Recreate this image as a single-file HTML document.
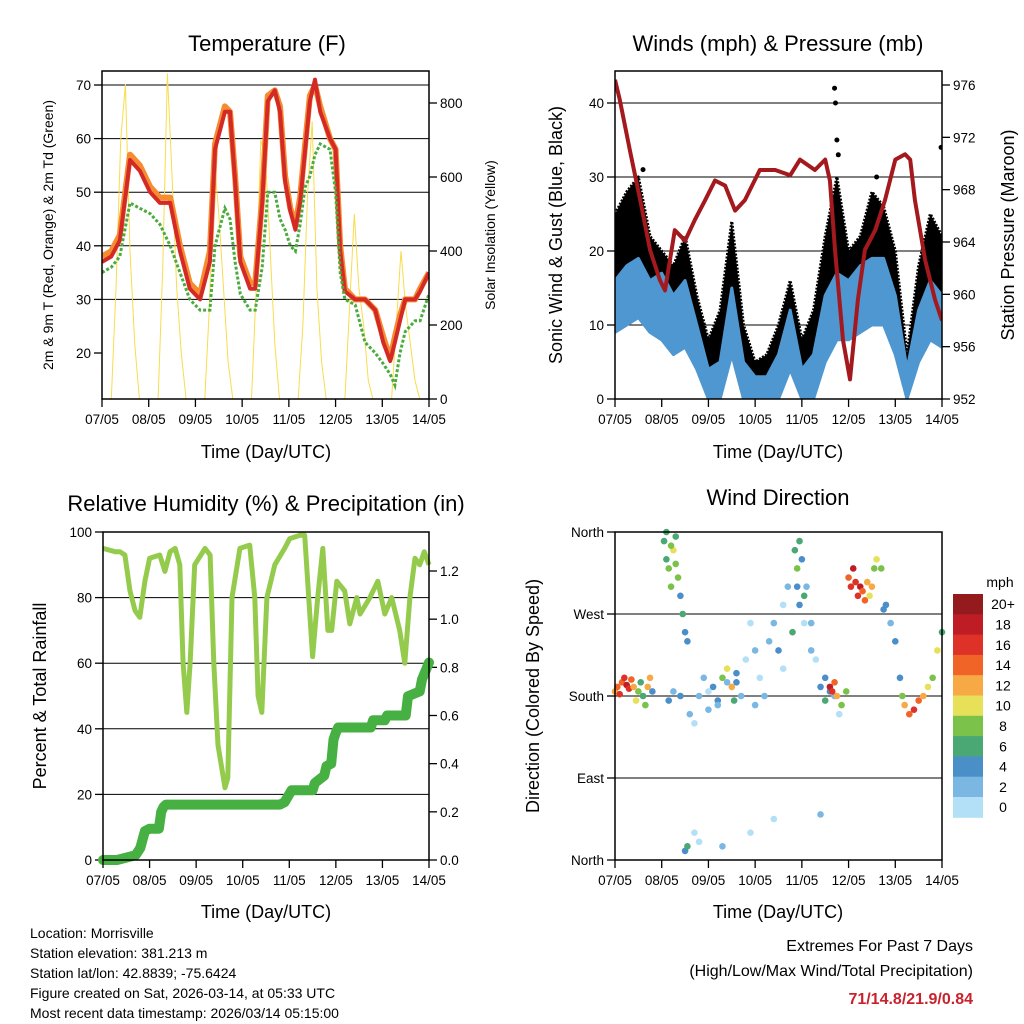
<!DOCTYPE html>
<html><head><meta charset="utf-8"><style>
html,body{margin:0;padding:0;background:#fff;}
svg{display:block;font-family:"Liberation Sans",sans-serif;}
</style></head><body>
<svg id="chart" width="1024" height="1024" viewBox="0 0 1024 1024" xmlns="http://www.w3.org/2000/svg">
<rect width="1024" height="1024" fill="#fff"/>
<g font-size="22" text-anchor="middle" fill="#000">
<text x="267" y="51">Temperature (F)</text>
<text x="778" y="51">Winds (mph) &amp; Pressure (mb)</text>
<text x="266" y="511">Relative Humidity (%) &amp; Precipitation (in)</text>
<text x="778" y="505">Wind Direction</text>
</g>
<g font-size="18" text-anchor="middle">
<text x="266" y="458">Time (Day/UTC)</text>
<text x="778" y="458">Time (Day/UTC)</text>
<text x="266" y="918">Time (Day/UTC)</text>
<text x="778" y="918">Time (Day/UTC)</text>
<text font-size="14" transform="translate(53,235) rotate(-90)">2m &amp; 9m T (Red, Orange) &amp; 2m Td (Green)</text>
<text font-size="14" transform="translate(495,235) rotate(-90)">Solar Insolation (Yellow)</text>
<text transform="translate(562,235) rotate(-90)">Sonic Wind &amp; Gust (Blue, Black)</text>
<text transform="translate(1014,235) rotate(-90)">Station Pressure (Maroon)</text>
<text transform="translate(46,696) rotate(-90)">Percent &amp; Total Rainfall</text>
<text transform="translate(539,696) rotate(-90)">Direction (Colored By Speed)</text>
</g>
<g font-size="14" fill="#000">
<text x="30" y="938">Location: Morrisville</text>
<text x="30" y="958">Station elevation: 381.213 m</text>
<text x="30" y="978">Station lat/lon: 42.8839; -75.6424</text>
<text x="30" y="998">Figure created on Sat, 2026-03-14, at 05:33 UTC</text>
<text x="30" y="1018">Most recent data timestamp: 2026/03/14 05:15:00</text>
</g>
<g font-size="16" text-anchor="end">
<text x="973" y="951">Extremes For Past 7 Days</text>
<text x="973" y="976">(High/Low/Max Wind/Total Precipitation)</text>
<text x="973" y="1004" fill="#c8232c" font-weight="bold">71/14.8/21.9/0.84</text>
</g>
<g id="plots"></g>
</svg>
<script>
// ---------- data ----------
const dayLabels=["07/05","08/05","09/05","10/05","11/05","12/05","13/05","14/05"];
const tempTicks=[20,30,40,50,60,70];
const solarTicks=[0,200,400,600,800];
const windTicks=[0,10,20,30,40];
const presTicks=[952,956,960,964,968,972,976];
const rhTicks=[0,20,40,60,80,100];
const rainTicks=[0.0,0.2,0.4,0.6,0.8,1.0,1.2];
const dirNames=["North","East","South","West","North"];
const dirDeg=[0,90,180,270,360];
const speedLabels=["0","2","4","6","8","10","12","14","16","18","20+"];
const speedColors=["#b3e0f7","#7ab8e3","#4a8fc8","#49a874","#7bc24b","#e7e059","#f7a945","#f06427","#de3128","#bf1d26","#951a1d"];

const tTimes=[0,0.2,0.38,0.6,0.81,1.03,1.24,1.46,1.67,1.88,2.1,2.31,2.42,2.63,2.74,2.85,2.96,3.17,3.28,3.43,3.55,3.7,3.81,3.92,4.03,4.14,4.24,4.35,4.45,4.56,4.67,4.88,5.0,5.1,5.2,5.42,5.63,5.85,6.02,6.17,6.27,6.38,6.49,6.7,6.81,7.0];
const temp2m=[37,38,41,56,54,50,48,48,39,32,30,37,58,65,65,52,37,32,32,48,67,69,65,52,46.5,43,48,58,67,71,65,60,58,39,31.5,30,30,28,22,18.5,22,26,30,30,31.5,35];
const temp9m=[38,39,42,57,55,51,49,49,40,33,31,39,59,66,65,53,38,33,33,49,68,69,66,53,47,44,49,59,68,70,66,60,58,40,32,30,30,28,23,19,23,27,30,30,32,35];
const dewpt=[35,36,38,48,47,46,44,40,35,30,28,28,40,47,45,37,31,28,28,36,50,50,45,43,40,39,44,51,53,57,59,58,50,35,30,29,22,20,18,16,14,20,24,26,26,31];
const solarTimes=[0.2,0.3,0.4,0.5,0.6,0.7,0.8,1.2,1.3,1.4,1.5,1.6,1.7,1.8,2.2,2.3,2.4,2.5,2.6,2.7,2.8,3.2,3.3,3.4,3.5,3.6,3.7,3.8,4.2,4.3,4.4,4.5,4.6,4.7,4.8,5.2,5.3,5.4,5.5,5.6,5.7,5.8,6.2,6.3,6.4,6.5,6.6,6.7,6.8];
const solarVals=[0,300,700,850,400,150,0,0,350,880,600,300,120,0,0,250,650,500,300,100,0,0,300,700,650,400,150,0,0,200,550,750,300,100,0,0,250,500,300,200,50,0,0,200,400,250,150,50,0];

const presTimes=[0,0.1,0.32,0.54,0.75,0.96,1.07,1.28,1.5,1.71,1.93,2.14,2.36,2.57,2.78,3.1,3.43,3.75,3.96,4.28,4.5,4.6,4.71,4.88,5.03,5.2,5.35,5.57,5.78,6.0,6.21,6.32,6.42,6.64,6.85,7.0];
const presVals=[976.4,974.9,971,967.2,963.4,961.1,960.3,964.9,964.1,965.7,967.2,968.7,968.3,966.4,967.2,969.5,969.5,969.1,970.3,969.5,970.3,968.7,963.4,956.5,953.5,959.6,963.4,964.9,967.2,970.3,970.7,970.3,967.2,962.6,959.6,958];
const windTimes=[0,0.25,0.5,0.75,1,1.25,1.5,1.75,2,2.25,2.5,2.75,3,3.25,3.5,3.75,4,4.25,4.5,4.75,5,5.25,5.5,5.75,6,6.25,6.5,6.75,7];
const gustHigh=[25,28,30,22,20,18,22,14,8,12,24,10,5,6,10,16,8,12,22,30,20,22,28,26,20,6,18,25,22];
const gustLow=[12,15,17,13,12,10,12,8,2,2,12,3,1,1,3,8,2,3,10,14,12,14,16,15,10,1,8,12,10];
const windHigh=[16,18,19,16,17,14,16,10,4,5,15,5,3,3,6,12,4,6,14,17,16,18,19,19,14,4,12,16,14];
const windLow=[9,10,11,9,8,6,7,4,0,0,6,0,0,0,0,4,0,0,5,8,8,9,10,10,6,0,5,8,7];
const gustOutTimes=[4.7,4.72,4.75,4.78,6.98,0.6,5.6];
const gustOutVals=[42,40,35,33,34,31,30];

const rhTimes=[0,0.26,0.36,0.47,0.58,0.69,0.79,0.9,1.0,1.22,1.33,1.44,1.55,1.65,1.72,1.8,1.87,1.97,2.19,2.3,2.38,2.47,2.62,2.68,2.77,2.94,3.15,3.26,3.33,3.41,3.52,3.69,3.9,4.01,4.23,4.33,4.44,4.5,4.61,4.72,4.83,4.91,5.02,5.19,5.3,5.45,5.52,5.73,5.9,6.05,6.2,6.37,6.48,6.59,6.7,6.8,6.9,7.0];
const rhVals=[95,94,94,93,82,76,74,85,92,93,88,94,95,90,60,45,60,90,95,93,60,35,22,25,80,95,96,80,50,45,80,90,95,98,99,99,75,62,80,95,70,70,85,82,72,80,75,80,85,75,80,70,60,80,92,90,94,90];
const rainTimes=[0,0.3,0.5,0.7,0.8,0.9,1.0,1.2,1.25,1.3,1.35,3.8,3.9,4.05,4.5,4.55,4.75,4.8,4.9,4.95,5.0,5.05,5.75,5.8,6.05,6.1,6.5,6.55,6.8,6.85,7.0];
const rainVals=[0,0,0.01,0.02,0.05,0.12,0.13,0.13,0.2,0.22,0.23,0.23,0.24,0.29,0.29,0.32,0.35,0.39,0.4,0.5,0.53,0.55,0.55,0.58,0.58,0.6,0.6,0.68,0.7,0.75,0.82];

const dirTimes=[0.0,0.05,0.1,0.15,0.2,0.25,0.3,0.35,0.4,0.45,0.5,0.55,0.6,0.65,0.7,0.75,0.8,1.05,1.1,1.15,1.2,1.25,1.3,1.35,1.4,1.45,1.5,1.55,1.15,1.25,1.4,1.7,1.8,1.9,2.0,2.1,2.2,2.3,2.4,2.5,2.55,2.6,2.7,2.8,2.9,3.0,3.1,3.2,3.3,3.4,3.5,3.6,3.7,3.8,3.9,3.95,4.0,4.05,4.1,4.2,4.3,4.4,4.5,4.6,4.7,4.8,1.7,1.8,2.3,2.9,3.4,4.4,1.5,1.55,4.6,4.65,4.7,4.75,4.85,4.95,5.0,5.05,5.1,5.15,5.2,5.25,5.3,5.35,5.4,5.45,5.5,5.55,5.6,5.7,5.75,5.8,5.9,6.0,6.1,6.15,6.2,6.3,6.4,6.5,6.6,6.7,6.8,6.9,7.0,1.1,1.2,1.3,3.85,3.9,3.95,4.05,1.6,2.0,2.2,2.4,2.6,3.0,3.6,4.2,4.5];
const dirVals=[185,190,182,195,200,192,188,198,190,175,185,195,180,170,190,200,185,350,330,320,300,340,355,310,290,270,250,240,175,185,180,150,180,200,165,190,175,200,210,190,175,195,180,220,260,230,200,180,240,260,230,280,300,250,320,350,330,290,300,260,220,190,175,185,180,160,30,20,15,30,45,50,10,15,190,185,195,180,170,185,310,300,320,305,290,300,295,285,305,290,300,320,330,320,275,280,260,240,200,180,170,160,165,175,180,190,200,230,250,360,345,325,340,300,280,260,160,185,170,195,205,170,210,230,200];
const dirSpeeds=[12,14,16,15,17,18,16,14,12,10,8,7,6,9,12,13,5,6,7,8,9,10,6,8,5,6,4,5,4,3,5,1,2,2,3,4,5,8,10,12,6,4,2,1,1,2,1,3,2,3,4,1,2,6,8,7,5,6,3,2,1,4,6,5,3,1,1,1,2,1,1,2,4,6,18,16,14,12,8,9,14,16,18,17,16,19,15,14,13,10,12,8,10,9,4,4,3,4,5,8,12,14,16,14,12,10,8,10,6,7,8,9,6,5,4,1,2,1,2,3,4,2,1,3,5];

// ---------- helpers ----------
const NS="http://www.w3.org/2000/svg";
const root=document.getElementById('plots');
function mk(tag,attrs,parent){const e=document.createElementNS(NS,tag);for(const k in attrs)e.setAttribute(k,attrs[k]);(parent||root).appendChild(e);return e;}
function lin(d0,d1,r0,r1){return v=>r0+(v-d0)*(r1-r0)/(d1-d0);}
function pathOf(xs,ys,fx,fy){return xs.map((t,i)=>(i?'L':'M')+fx(t).toFixed(1)+','+fy(ys[i]).toFixed(1)).join('');}
function bandOf(xs,hi,lo,fx,fy){let d=xs.map((t,i)=>(i?'L':'M')+fx(t).toFixed(1)+','+fy(hi[i]).toFixed(1)).join('');for(let i=xs.length-1;i>=0;i--)d+='L'+fx(xs[i]).toFixed(1)+','+fy(lo[i]).toFixed(1);return d+'Z';}
function frame(x0,x1,y0,y1,name){
  const f=mk('rect',{x:x0,y:y0,width:x1-x0,height:y1-y0,fill:'none',stroke:'#000','stroke-width':1.5});
  
  
}
function xAxis(x0,x1,y1,name){
  const fx=lin(0,7,x0,x1);
  dayLabels.forEach((lab,i)=>{
    mk('line',{x1:fx(i),x2:fx(i),y1:y1,y2:y1+8,stroke:'#000','stroke-width':1.3});
    const t=mk('text',{x:fx(i),y:y1+25,'font-size':13.5,'text-anchor':'middle'});t.textContent=lab;
    
    
  });
  return fx;
}
function yAxis(vals,labels,fy,x,side,name,grid,gx0,gx1){
  vals.forEach((v,i)=>{
    const y=fy(v);
    if(grid){mk('line',{x1:gx0,x2:gx1,y1:y,y2:y,stroke:'#000','stroke-width':1});}
    mk('line',{x1:x,x2:x+(side<0?-8:8),y1:y,y2:y,stroke:'#000','stroke-width':1.3});
    const t=mk('text',{x:x+(side<0?-11:11),y:y+5,'font-size':13.5,'text-anchor':side<0?'end':'start'});t.textContent=labels[i];
    
    
  });
}

// ---------- Panel 1: temperature ----------
(function(){
  const x0=102,x1=429,y0=71,y1=399;
  const fx=lin(0,7,x0,x1), fT=lin(20,70,353,85), fS=lin(0,800,399,103);
  const cpE=mk('clipPath',{id:'c1'});mk('rect',{x:x0,y:y0,width:x1-x0,height:y1-y0},cpE);
  yAxis(tempTicks.slice(1),tempTicks.slice(1).map(String),fT,x0,-1,'temp-y',true,x0,x1);
  yAxis([20],["20"],fT,x0,-1,'temp-y',false);
  yAxis(solarTicks,solarTicks.map(String),fS,x1,1,'solar-y',false);
  const g=mk('g',{'clip-path':'url(#c1)'});
  const s=mk('path',{d:pathOf(solarTimes,solarVals,fx,fS),fill:'none',stroke:'#f8dc4c','stroke-width':1},g);
  
  
  const o=mk('path',{d:pathOf(tTimes,temp9m,fx,fT),fill:'none',stroke:'#f68b30','stroke-width':6,'stroke-linejoin':'round'},g);
  
  
  const r=mk('path',{d:pathOf(tTimes,temp2m,fx,fT),fill:'none',stroke:'#d42a26','stroke-width':4,'stroke-linejoin':'round'},g);
  
  
  const d=mk('path',{d:pathOf(tTimes,dewpt,fx,fT),fill:'none',stroke:'#4aac3c','stroke-width':3,'stroke-dasharray':'3 2'},g);
  
  
  xAxis(x0,x1,y1,'temp');
  frame(x0,x1,y0,y1,'temp-plot');
})();

// ---------- Panel 2: winds & pressure ----------
(function(){
  const x0=615,x1=942,y0=71,y1=399;
  const fx=lin(0,7,x0,x1), fW=lin(0,40,399,103), fP=lin(952,976,399,85);
  const cpE=mk('clipPath',{id:'c2'});mk('rect',{x:x0,y:y0,width:x1-x0,height:y1-y0},cpE);
  yAxis(windTicks,windTicks.map(String),fW,x0,-1,'wind-y',true,x0,x1);
  yAxis(presTicks,presTicks.map(String),fP,x1,1,'pressure-y',false);
  const g=mk('g',{'clip-path':'url(#c2)'});
  const gb=mk('path',{d:bandOf(windTimes,gustHigh,gustLow,fx,fW),fill:'#000',stroke:'#000','stroke-width':3,'stroke-linejoin':'round','stroke-dasharray':'2 1.5'},g);
  
  
  gustOutTimes.forEach((t,i)=>{const c=mk('circle',{cx:fx(t),cy:fW(gustOutVals[i]),r:2.5,fill:'#000'},g);
    
    });
  const wb=mk('path',{d:bandOf(windTimes,windHigh,windLow,fx,fW),fill:'#4f97d0',stroke:'#4f97d0','stroke-width':3,'stroke-linejoin':'round'},g);
  
  
  const p=mk('path',{d:pathOf(presTimes,presVals,fx,fP),fill:'none',stroke:'#a3191d','stroke-width':4,'stroke-linejoin':'round'},g);
  
  
  xAxis(x0,x1,y1,'winds');
  frame(x0,x1,y0,y1,'winds-plot');
})();

// ---------- Panel 3: RH & precipitation ----------
(function(){
  const x0=103,x1=429,y0=532,y1=860;
  const fx=lin(0,7,x0,x1), fR=lin(0,100,860,532), fI=lin(0,1.2,860,571);
  yAxis(rhTicks,rhTicks.map(String),fR,x0,-1,'rh-y',false);
  [20,40,60,80].forEach(v=>mk('line',{x1:x0,x2:x1,y1:fR(v),y2:fR(v),stroke:'#000','stroke-width':1}));
  yAxis(rainTicks,rainTicks.map(v=>v.toFixed(1)),fI,x1,1,'rain-y',false);
  const h=mk('path',{d:pathOf(rhTimes,rhVals,fx,fR),fill:'none',stroke:'#95cb4d','stroke-width':5,'stroke-linejoin':'round'});
  
  
  const r=mk('path',{d:pathOf(rainTimes,rainVals,fx,fI),fill:'none',stroke:'#46b043','stroke-width':10,'stroke-linejoin':'round','stroke-linecap':'round'});
  
  
  xAxis(x0,x1,y1,'rh');
  frame(x0,x1,y0,y1,'rh-plot');
})();

// ---------- Panel 4: wind direction ----------
(function(){
  const x0=615,x1=942,y0=532,y1=860;
  const fx=lin(0,7,x0,x1), fD=lin(0,360,860,532);
  yAxis(dirDeg,dirNames,fD,x0,-1,'dir-y',false);
  [90,180,270].forEach(v=>mk('line',{x1:x0,x2:x1,y1:fD(v),y2:fD(v),stroke:'#000','stroke-width':1}));
  dirTimes.forEach((t,i)=>{
    const idx=Math.min(10,Math.floor(dirSpeeds[i]/2));
    const c=mk('circle',{cx:fx(t),cy:fD(dirVals[i]),r:3.3,fill:speedColors[idx]});
    
    
  });
  xAxis(x0,x1,y1,'dir');
  frame(x0,x1,y0,y1,'dir-plot');
  // colorbar
  const bx=953,bw=30,by=594,bh=20.3;
  const u=mk('text',{x:1000,y:587,'font-size':14,'text-anchor':'middle'});u.textContent='mph';
  
  
  for(let k=0;k<11;k++){
    const j=10-k;
    const rc=mk('rect',{x:bx,y:by+k*bh,width:bw,height:bh+0.5,fill:speedColors[j]});
    
    
    const t=mk('text',{x:1003,y:by+k*bh+bh/2+5,'font-size':14,'text-anchor':'middle'});t.textContent=speedLabels[j];
    
    
  }
})();
</script>
</body></html>
